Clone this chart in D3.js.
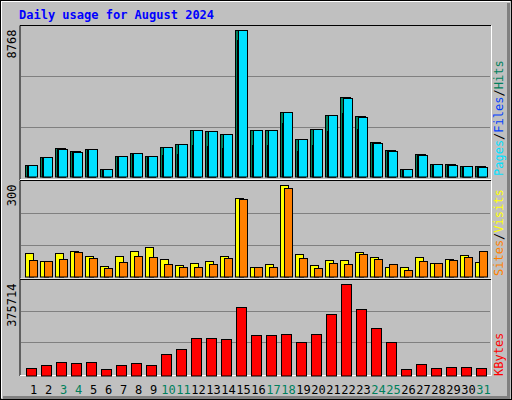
<!DOCTYPE html>
<html><head><meta charset="utf-8">
<script src="https://cdn.jsdelivr.net/npm/d3@7"></script>
<style>body{margin:0;background:#fff}svg{display:block}</style>
</head><body>
<script>
// daily values
var days = d3.range(1, 32);
var weekend = [3, 4, 10, 11, 17, 18, 24, 25, 31];
var hits  = [694,1151,1686,1508,1627,436,1210,1389,1210,1746,1924,2757,2698,2519,8768,2757,2757,3829,2222,2817,3650,4721,3591,2043,1567,436,1329,734,734,615,615];
var files = [694,1151,1627,1448,1627,436,1210,1389,1210,1746,1924,2757,2698,2519,8768,2757,2757,3829,2222,2817,3650,4662,3532,1984,1508,436,1270,734,675,615,556];
var pages = [635,1151,1627,1448,1627,436,1210,1389,1210,1270,1329,1865,1805,1686,8115,1865,1865,3174,1508,1865,2698,3770,2817,1984,1508,436,1270,734,675,615,556];
var sites  = [76,50,76,82,66,34,66,82,95,56,37,43,50,66,255,30,40,300,73,37,53,53,79,63,30,30,63,43,56,69,47];
var visits = [53,50,56,80,60,27,47,66,63,40,30,30,40,60,251,30,30,290,60,27,43,40,73,56,40,21,50,43,53,63,82];
var kbytes = [17800,30000,42500,38400,42500,13700,30000,38400,30000,79500,100000,145000,145000,141000,277000,158000,158000,162000,129000,162000,248000,375714,269000,186000,129000,13700,34000,17800,22000,22000,17800];

var W = 512, H = 400, mono = "DejaVu Sans Mono, monospace";
var svg = d3.select("body").append("svg").attr("width", W).attr("height", H);

// frame with bevel
svg.append("rect").attr("width", W).attr("height", H).attr("fill", "#c0c0c0");
svg.append("path").attr("d", "M1,398V1H510").attr("fill", "none").attr("stroke", "#fff").attr("stroke-width", 2);
svg.append("path").attr("d", "M3,397.5H508.5V3").attr("fill", "none").attr("stroke", "#808080").attr("stroke-width", 3);
svg.append("rect").attr("x", 0.5).attr("y", 0.5).attr("width", W - 1).attr("height", H - 1)
    .attr("fill", "none").attr("stroke", "#000");

svg.append("text").attr("x", 19).attr("y", 19).attr("fill", "#0000ff")
    .style("font", "bold 12px " + mono).text("Daily usage for August 2024");

var x = d3.scaleBand().domain(days).range([25, 490]).paddingInner(0);

// panels: top/bottom y, max value, label
function panel(y0, y1, max, label) {
    svg.append("path").attr("d", "M20," + y1 + "V" + y0 + "H491").attr("fill", "none").attr("stroke", "#000");
    svg.append("path").attr("d", "M20," + (y1 - 0.5) + "H491.5V" + y0).attr("fill", "none").attr("stroke", "#fff");
    var y = d3.scaleLinear().domain([0, max]).range([y1 - 3.5, y0 + 4]);
    var g = svg.append("g");
    [1, 2].forEach(function(k) {
        var gy = Math.round(y1 - 3 - k * (y1 - y0 - 3) / 3) + 0.5;
        g.append("line").attr("x1", 21).attr("x2", 490).attr("y1", gy).attr("y2", gy)
            .attr("stroke", "#808080");
    });
    svg.append("text").attr("transform", "translate(16," + (y0 + 4) + ") rotate(-90)")
        .attr("text-anchor", "end").style("font", "12px " + mono).text(label);
    return y;
}

function legend(yEnd, parts) {
    var t = svg.append("text").attr("transform", "translate(503," + yEnd + ") rotate(-90)")
        .style("font", "12px " + mono);
    parts.forEach(function(p) { t.append("tspan").attr("fill", p[1]).text(p[0]); });
}

function bars(y, data, dx, w, color, base) {
    svg.append("g").selectAll("rect").data(data).join("rect")
        .attr("x", function(d, i) { return x(days[i]) + dx + 0.5; })
        .attr("y", function(d) { return Math.round(y(d)) + 0.5; })
        .attr("width", w)
        .attr("height", function(d) { return Math.max(0, base - Math.round(y(d))); })
        .attr("fill", color).attr("stroke", "#000");
}

var y1 = panel(25.5, 180, 8768, "8768");
bars(y1, hits, 0, 10, "#00805c", 176.5);
bars(y1, pages, 2, 8, "#0040ff", 176.5);
bars(y1, files, 3, 9, "#00e0ff", 176.5);
legend(176, [["Pages", "#00e0ff"], ["/", "#000"], ["Files", "#0040ff"], ["/", "#000"], ["Hits", "#00805c"]]);

var y2 = panel(180.5, 279.5, 300, "300");
bars(y2, sites, 0, 8, "#ffff00", 276.5);
bars(y2, visits, 4, 8, "#ff8000", 276.5);
legend(276, [["Sites", "#ff8000"], ["/", "#000"], ["Visits", "#ffff00"]]);

var y3 = panel(279.5, 376, 375714, "375714");
bars(y3, kbytes, 1, 10, "#ff0000", 375.5);
legend(376, [["KBytes", "#ff0000"]]);

// day labels
var xa = svg.append("g").attr("transform", "translate(0,376)")
    .call(d3.axisBottom(x).tickSize(0).tickPadding(9));
xa.select(".domain").remove();
xa.selectAll("text").style("font", "12px " + mono).attr("dx", 1)
    .attr("fill", function(d) { return weekend.indexOf(d) >= 0 ? "#00805c" : "#000"; });
</script>
</body></html>
